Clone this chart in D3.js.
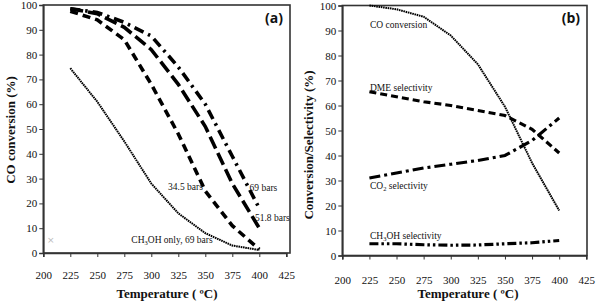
<!DOCTYPE html>
<html><head><meta charset="utf-8">
<script src="https://cdn.jsdelivr.net/npm/d3@7"></script>
<style>
html,body{margin:0;padding:0;background:#fff;}
svg{display:block;}
</style></head>
<body>
<svg id="c" width="598" height="302"></svg>
<script>
// ---------- data ----------
const temps = [225, 250, 275, 300, 325, 350, 375, 400];
const xTicks = [200, 225, 250, 275, 300, 325, 350, 375, 400, 425];
const yTicks = [0, 10, 20, 30, 40, 50, 60, 70, 80, 90, 100];

// panel (a): CO conversion (%)
const conv345 = [97.5, 94, 86, 68, 48, 25, 11, 1.5];
const conv518 = [98.5, 96.5, 91, 82, 68, 51, 28, 10];
const conv69  = [98.5, 97, 93, 87.5, 75, 60, 39, 18];
const convMeOH = [74.5, 61, 45, 28, 16, 8, 3, 1.2];
const strayMarker = [[207, 5.6]];

// panel (b): conversion / selectivity (%)
const coConv = [100, 98.5, 95.5, 88, 76.5, 59.5, 37, 18];
const dmeSel = [65.5, 63.5, 61.5, 60, 58, 56, 50.5, 41];
const co2Sel = [31, 33, 35, 36.5, 38, 40, 46, 55];
const meohSel = [4.7, 4.7, 4.3, 4.1, 4.2, 4.7, 5.1, 6];

// ---------- drawing ----------
const svg = d3.select("#c");
const serif = "'Liberation Serif','Times New Roman',serif";

function panel(opt) {
  const x = d3.scaleLinear().domain([200, 425]).range([opt.x0, opt.x1]);
  const y = d3.scaleLinear().domain([0, 100]).range([opt.y0, opt.y1]);
  const g = svg.append("g");

  g.append("rect").attr("x", opt.x0).attr("y", opt.y1)
    .attr("width", opt.fr - opt.x0).attr("height", opt.y0 - opt.y1)
    .attr("fill", "none").attr("stroke", "#333").attr("stroke-width", 1.6);

  const ya = g.append("g").attr("transform", `translate(${opt.x0},0)`)
    .call(d3.axisLeft(y).tickValues(yTicks).tickSize(4).tickPadding(2).tickFormat(d3.format("d")));
  ya.select(".domain").attr("stroke", "#333").attr("stroke-width", 1.6);
  ya.selectAll(".tick line").attr("stroke", "#333");
  ya.selectAll("text").attr("font-family", serif).attr("font-size", 11).attr("fill", "#111");

  const xa = g.append("g").attr("transform", `translate(0,${opt.y0})`)
    .call(d3.axisBottom(x).tickValues(xTicks).tickSize(4).tickPadding(opt.xpad).tickFormat(d3.format("d")));
  xa.select(".domain").attr("stroke", "#333").attr("stroke-width", 1.6);
  xa.selectAll(".tick line").attr("stroke", "#333");
  xa.selectAll("text").attr("font-family", serif).attr("font-size", 11).attr("fill", "#111");

  g.append("text").attr("x", opt.xtx).attr("y", 298)
    .attr("text-anchor", "middle").attr("font-family", serif).attr("font-weight", "bold")
    .attr("font-size", 13).attr("fill", "#111").text("Temperature ( ºC)");
  g.append("text").attr("transform", `translate(${opt.ytx},${opt.yty}) rotate(-90)`)
    .attr("text-anchor", "middle").attr("font-family", serif).attr("font-weight", "bold")
    .attr("font-size", 13).attr("fill", "#111").text(opt.ytitle);

  g.append("text").attr("x", opt.fr - 7).attr("y", 23).attr("text-anchor", "end")
    .attr("font-family", "'Open Sans','Liberation Sans',sans-serif").attr("font-weight", "bold")
    .attr("font-size", 14).attr("fill", "#111").text(opt.tag);

  const line = d3.line().x((d, i) => x(temps[i])).y(d => y(d));
  opt.series.forEach(s => {
    g.append("path").datum(s.v).attr("d", line).attr("fill", "none")
      .attr("stroke", "#000").attr("stroke-width", s.w)
      .attr("stroke-dasharray", s.dash).attr("stroke-linecap", "butt");
  });
  return {g, x, y};
}

// parts: plain strings, or {sub: "..."} for a subscript
function label(g, x, y, px, py, parts) {
  const t = g.append("text").attr("x", x(px)).attr("y", y(py))
    .attr("font-family", serif).attr("font-size", 9.5).attr("fill", "#111");
  let shifted = false;
  parts.forEach(p => {
    const ts = t.append("tspan");
    if (typeof p === "string") {
      if (shifted) { ts.attr("dy", -2); shifted = false; }
      ts.text(p);
    } else {
      ts.attr("dy", 2).attr("font-size", 6.5).text(p.sub);
      shifted = true;
    }
  });
}

// Panel (a)
const A = panel({
  x0: 43.3, x1: 286.3, fr: 290, y0: 253, y1: 5, xpad: 14,
  xtx: 167, ytx: 15, yty: 130, ytitle: "CO conversion (%)", tag: "(a)",
  series: [
    {v: convMeOH, w: 2, dash: "1.6,0.7"},
    {v: conv345, w: 3.6, dash: "8,5"},
    {v: conv518, w: 3.6, dash: "13,5"},
    {v: conv69,  w: 3.6, dash: "10,5,2.5,5"}
  ]
});
A.g.selectAll(".stray").data(strayMarker).enter().append("text")
  .attr("x", d => A.x(d[0])).attr("y", d => A.y(d[1]) + 3.5)
  .attr("text-anchor", "middle").attr("font-family", "'DejaVu Sans',sans-serif")
  .attr("font-size", 9).attr("fill", "#bbb").text("×");
label(A.g, A.x, A.y, 315.5, 25.5, ["34.5 bars"]);
label(A.g, A.x, A.y, 391, 25, ["69 bars"]);
label(A.g, A.x, A.y, 396, 13, ["51.8 bars"]);
label(A.g, A.x, A.y, 281.5, 4, ["CH", {sub: "3"}, "OH only, 69 bars"]);

// Panel (b)
const B = panel({
  x0: 342.3, x1: 586.3, fr: 587, y0: 255.5, y1: 5.5, xpad: 17,
  xtx: 468, ytx: 313, yty: 145, ytitle: "Conversion/Selectivity (%)", tag: "(b)",
  series: [
    {v: coConv, w: 2, dash: "1.6,0.7"},
    {v: dmeSel, w: 3.2, dash: "7,4"},
    {v: co2Sel, w: 3.2, dash: "11,4,3,4"},
    {v: meohSel, w: 3.2, dash: "9,3,2.5,3,2.5,3"}
  ]
});
label(B.g, B.x, B.y, 225.5, 91, ["CO conversion"]);
label(B.g, B.x, B.y, 225.5, 66, ["DME selectivity"]);
label(B.g, B.x, B.y, 225.5, 26.5, ["CO", {sub: "2"}, " selectivity"]);
label(B.g, B.x, B.y, 225.5, 6.5, ["CH", {sub: "3"}, "OH selectivity"]);
</script>
</body></html>
